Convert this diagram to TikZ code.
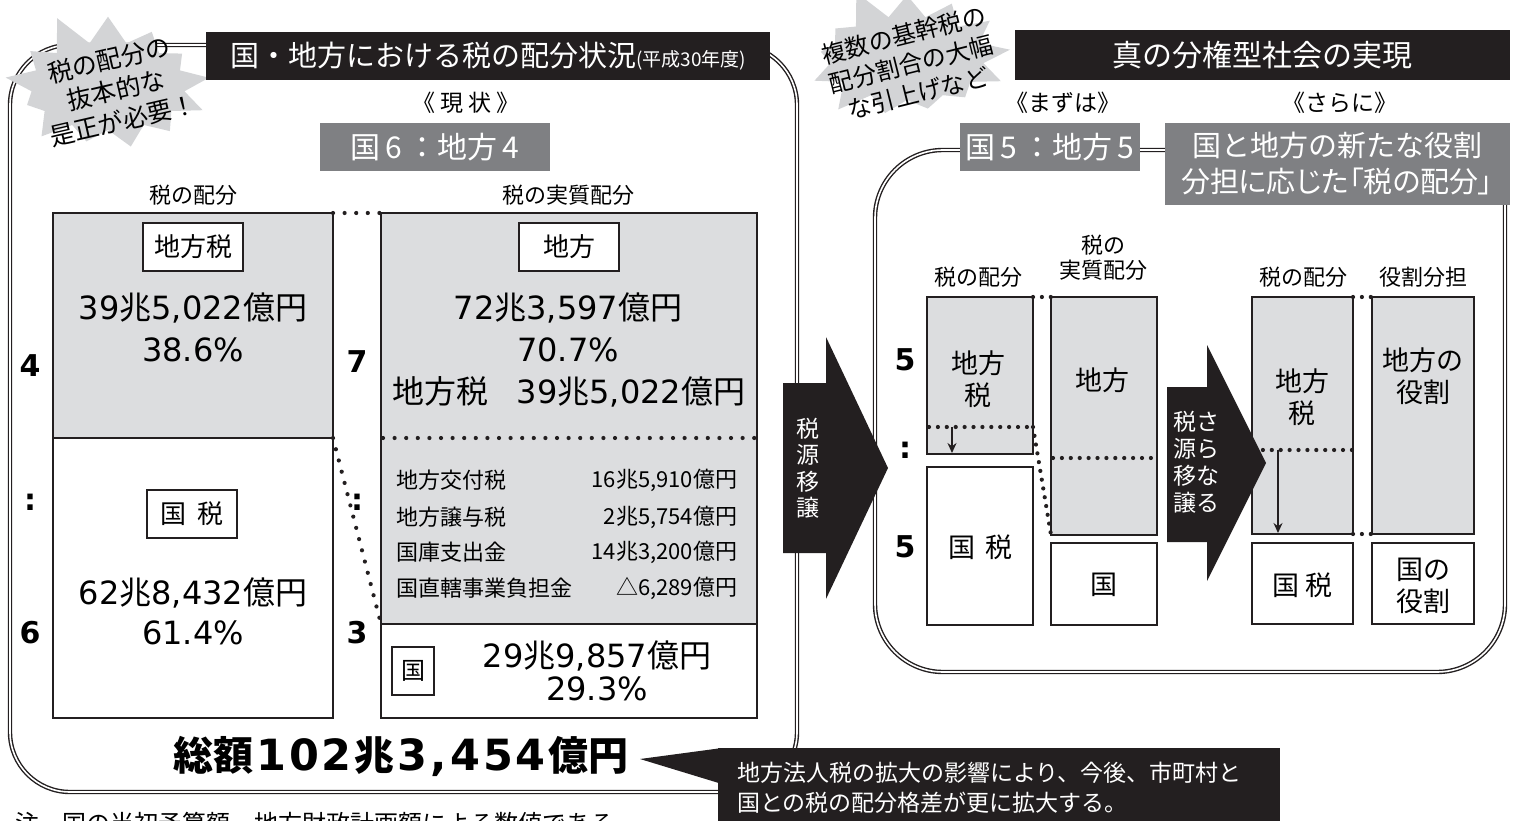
\documentclass[tikz,border=0pt]{standalone}
\usepackage{fontspec}
\setmainfont{Noto Sans CJK JP}
\newfontfamily\numf{DejaVu Sans}
\usetikzlibrary{shapes.symbols,arrows.meta}
\definecolor{bk}{HTML}{231F20}
\definecolor{lg}{HTML}{DCDDDF}
\definecolor{mg}{HTML}{7F8083}
\definecolor{sb}{HTML}{D3D4D6}
\newcommand{\myfs}[2]{\fontsize{#1}{#2}\selectfont}
\newcommand{\gp}{\hspace{3pt}}
\newcommand{\dg}[1]{{\numf\myfs{43}{43}#1}}
\begin{document}
\begin{tikzpicture}[x=1pt,y=-1pt,
  every node/.style={inner sep=0pt, outer sep=0pt},
  dbl/.style={draw=bk, double=white, double distance=1.6pt, line width=1.4pt},
  bar/.style={draw=bk, line width=2.6pt},
  lblbox/.style={draw=bk, line width=1.5pt, fill=white},
  dotln/.style={draw=bk, line width=4.2pt, line cap=round, dash pattern=on 0pt off 11.6pt},
  dotsm/.style={draw=bk, line width=4.2pt, line cap=round, dash pattern=on 0pt off 8.9pt},
  blk/.style={fill=bk, text=white},
  gry/.style={fill=mg, text=white},
  captxt/.style={font=\myfs{22}{22}},
  amt/.style={font=\myfs{32}{32}},
  lst/.style={font=\myfs{22}{22}},
  rat/.style={font=\numf\bfseries\myfs{30}{30}},
  bx/.style={font=\myfs{27}{32}, align=center},
  downarr/.style={-{Stealth[length=10pt,width=9pt]}, line width=1.3pt, draw=bk}
]
\useasboundingbox (0,0) rectangle (1526,821);

% ---------- panels ----------
\draw[dbl, rounded corners=60] (700,45) -- (10,45) -- (10,792) -- (797,792) -- (797,45) -- (720,45);
\draw[dbl, rounded corners=68] (1200,150) -- (875,150) -- (875,672) -- (1505,672) -- (1505,190);

% ---------- starbursts ----------
\node[starburst, fill=sb, minimum width=222pt, minimum height=156pt, starburst points=13, starburst point height=34pt, random starburst=11] (burstL) at (108,86) {};
\node[rotate=13, align=center, font=\myfs{25}{31}] (burstLtxt) at (116,90) {税の配分の\\抜本的な\\是正が必要！};
\node[starburst, fill=sb, minimum width=222pt, minimum height=152pt, starburst points=13, starburst point height=34pt, random starburst=5] (burstR) at (907,58) {};
\node[rotate=14, align=center, font=\myfs{24}{30}] (burstRtxt) at (911,64) {複数の基幹税の\\配分割合の大幅\\な引上げなど};

% ---------- headers ----------
\node[blk, minimum width=564pt, minimum height=48pt, font=\myfs{29}{29}] (hdrL) at (488,56) {国・地方における税の配分状況{\myfs{19}{19}(平成30年度)}};
\node[blk, minimum width=495pt, minimum height=50pt, font=\myfs{30}{30}] (hdrR) at (1262,55) {真の分権型社会の実現};

\node[font=\myfs{23}{23}] (now) at (466,103) {《 現 状 》};
\node[gry, minimum width=230pt, minimum height=48pt, font=\myfs{30}{30}] (ratioL) at (435,147) {国{\,}6{\,}：地方{\,}4};

\node[font=\myfs{23}{23}] (first) at (1063,103) {《まずは》};
\node[font=\myfs{23}{23}] (further) at (1340,103) {《さらに》};
\node[gry, minimum width=180pt, minimum height=48pt, font=\myfs{30}{30}] (ratioR) at (1050,147) {国{\,}5{\,}：地方{\,}5};
\node[gry, minimum width=345pt, minimum height=82pt, align=center, font=\myfs{29}{36}] (goal) at (1337,164) {国と地方の新たな役割\\{\addfontfeature{RawFeature=+palt}分担に応じた「税の配分」}};

% ---------- left chart ----------
\node[captxt] (capL1) at (193,195) {税の配分};
\node[captxt] (capL2) at (568,195) {税の実質配分};

\node[bar, fill=lg, minimum width=280pt, minimum height=225pt] (lt) at (193,325.5) {};
\node[bar, fill=white, minimum width=280pt, minimum height=280pt] (lb) at (193,578) {};
\node[bar, fill=lg, minimum width=376pt, minimum height=411pt] (rt) at (569,418.5) {};
\node[bar, fill=white, minimum width=376pt, minimum height=94pt] (rb) at (569,671) {};
\draw[dotln] (383,438) -- (757,438);

\draw[dotln] (lt.north east) -- (rt.north west);
\draw[dotln] (lt.south east) -- (rt.south west);

\node[lblbox, minimum width=100pt, minimum height=48pt, font=\myfs{26}{26}] (lblChiho) at (193,247) {地方税};
\node[amt] (amtL1) at (193,308) {{\numf 39}兆{\numf 5,022}億円};
\node[amt] (pctL1) at (193,350) {{\numf 38.6\%}};
\node[lblbox, minimum width=90pt, minimum height=48pt, font=\myfs{26}{26}] (lblKoku) at (192,514) {国{\hspace{12pt}}税};
\node[amt] (amtL2) at (193,593) {{\numf 62}兆{\numf 8,432}億円};
\node[amt] (pctL2) at (193,633) {{\numf 61.4\%}};

\node[rat] (r4) at (30,366) {4};
\node[rat] (r46) at (30,502) {:};
\node[rat] (r6) at (30,633) {6};
\node[rat] (r7) at (357,362) {7};
\node[rat] (r73) at (357,502) {:};
\node[rat] (r3) at (357,633) {3};

\node[lblbox, minimum width=100pt, minimum height=48pt, font=\myfs{26}{26}] (lblChiho2) at (569,247) {地方};
\node[amt] (amtR1) at (568,308) {{\numf 72}兆{\numf 3,597}億円};
\node[amt] (pctR1) at (568,350) {{\numf 70.7\%}};
\node[amt] (taxR1) at (569,392) {地方税{\hspace{28pt}}{\numf 39}兆{\numf 5,022}億円};

\node[lst, anchor=west] (i1) at (396,480) {地方交付税};
\node[lst, anchor=east] (v1) at (737,480) {16兆5,910億円};
\node[lst, anchor=west] (i2) at (396,517) {地方譲与税};
\node[lst, anchor=east] (v2) at (737,517) {2兆5,754億円};
\node[lst, anchor=west] (i3) at (396,552) {国庫支出金};
\node[lst, anchor=east] (v3) at (737,552) {14兆3,200億円};
\node[lst, anchor=west] (i4) at (396,588) {国直轄事業負担金};
\node[lst, anchor=east] (v4) at (737,588) {△6,289億円};

\node[lblbox, minimum width=42pt, minimum height=48pt, font=\myfs{24}{24}] (lblKoku2) at (413,671) {国};
\node[amt] (amtR2) at (597,656) {{\numf 29}兆{\numf 9,857}億円};
\node[amt] (pctR2) at (597,689) {{\numf 29.3\%}};

\node[font=\bfseries\myfs{40}{40}] (total) at (401,756) {総額{\gp}\dg{1}{\gp}\dg{0}{\gp}\dg{2}{\gp}兆{\gp}\dg{3}{\gp}\dg{,}{\gp}\dg{4}{\gp}\dg{5}{\gp}\dg{4}{\gp}億円};

% ---------- arrow 1 ----------
\fill[bk] (783,383) -- (826,383) -- (826,337) -- (888,468) -- (826,599) -- (826,553) -- (783,553) -- cycle;
\node[align=center, text=white, font=\myfs{23}{26.5}] (arr1txt) at (808,468) {税\\源\\移\\譲};

% ---------- right chart ----------
\node[captxt] (capR1) at (978,277) {税の配分};
\node[align=center, font=\myfs{22}{25}] (capR2) at (1103,258) {税の\\実質配分};
\node[captxt] (capR3) at (1303,277) {税の配分};
\node[captxt] (capR4) at (1423,277) {役割分担};

\node[bar, fill=lg, minimum width=106pt, minimum height=157pt] (boxA) at (980,375.5) {};
\node[bar, fill=white, minimum width=106pt, minimum height=158pt] (boxB) at (980,546) {};
\node[bar, fill=lg, minimum width=106pt, minimum height=238pt] (boxC) at (1104,416) {};
\node[bar, fill=white, minimum width=106pt, minimum height=82pt] (boxD) at (1104,584) {};
\node[bar, fill=lg, minimum width=101pt, minimum height=237pt] (boxE) at (1302.5,415.5) {};
\node[bar, fill=white, minimum width=101pt, minimum height=81pt] (boxF) at (1302.5,583.5) {};
\node[bar, fill=lg, minimum width=102pt, minimum height=237pt] (boxG) at (1423,415.5) {};
\node[bar, fill=white, minimum width=102pt, minimum height=81pt] (boxH) at (1423,583.5) {};

\draw[dotsm] (929,427) -- (1033,427);
\draw[dotsm] (1053,458) -- (1157,458);
\draw[dotsm] (1254,450) -- (1353,450);
\draw[dotsm] (boxA.north east) -- (boxC.north west);
\draw[dotsm] (1033,427) -- (boxC.south west);
\draw[dotsm] (boxE.north east) -- (boxG.north west);
\draw[dotsm] (boxE.south east) -- (boxG.south west);

\coordinate (aTop) at (952,427);
\coordinate (aBot) at (952,453);
\draw[downarr] (aTop) -- (aBot);
\coordinate (eTop) at (1278,450);
\coordinate (eBot) at (1278,533);
\draw[downarr] (eTop) -- (eBot);

\node[bx] (tA) at (978,379) {地方\\税};
\node[bx] (tB) at (980,547) {国{\hspace{10pt}}税};
\node[bx] (tC) at (1102,380) {地方};
\node[bx] (tD) at (1104,585) {国};
\node[bx] (tE) at (1302,397) {地方\\税};
\node[bx] (tF) at (1302,585) {国{\hspace{6pt}}税};
\node[bx] (tG) at (1423,376) {地方の\\役割};
\node[bx] (tH) at (1423,586) {国の\\役割};

\node[rat] (r5a) at (905,360) {5};
\node[rat] (r55) at (905,450) {:};
\node[rat] (r5b) at (905,547) {5};

% ---------- arrow 2 ----------
\fill[bk] (1167,387) -- (1207,387) -- (1207,345) -- (1266,463) -- (1207,581) -- (1207,542) -- (1167,542) -- cycle;
\node[align=center, text=white, font=\myfs{23}{27}] (arr2txt) at (1196,462) {税さ\\源ら\\移な\\譲る};

% ---------- callout ----------
\node[blk, minimum width=562pt, minimum height=73pt] (note) at (999,784.5) {};
\node[anchor=west, align=left, text=white, font=\myfs{23}{30}] (noteTxt) at (737,788) {地方法人税の拡大の影響により、今後、市町村と\\国との税の配分格差が更に拡大する。};
\coordinate (tip) at (640,759);
\fill[bk] (tip) -- (722,748) -- (722,784) -- cycle;

\node[anchor=base west, font=\myfs{24}{24}] (footnote) at (15,832) {注　国の当初予算額、地方財政計画額による数値である。};
\end{tikzpicture}
\end{document}
